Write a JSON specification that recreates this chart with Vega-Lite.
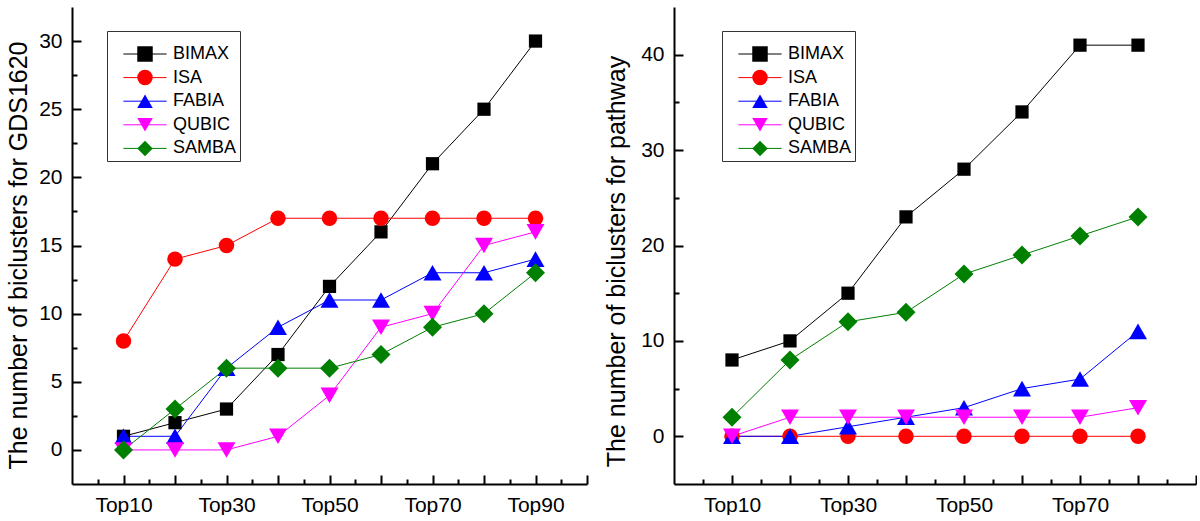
{
  "$schema": "https://vega.github.io/schema/vega-lite/v6.json",
  "background": "white",
  "padding": {"left": 5, "top": 7, "right": 0, "bottom": 0},
  "bounds": "flush",
  "spacing": 87,
  "datasets": {
    "left": [
      {"x": 10, "series": "BIMAX", "value": 1}, {"x": 20, "series": "BIMAX", "value": 2}, {"x": 30, "series": "BIMAX", "value": 3}, {"x": 40, "series": "BIMAX", "value": 7}, {"x": 50, "series": "BIMAX", "value": 12}, {"x": 60, "series": "BIMAX", "value": 16}, {"x": 70, "series": "BIMAX", "value": 21}, {"x": 80, "series": "BIMAX", "value": 25}, {"x": 90, "series": "BIMAX", "value": 30},
      {"x": 10, "series": "ISA", "value": 8}, {"x": 20, "series": "ISA", "value": 14}, {"x": 30, "series": "ISA", "value": 15}, {"x": 40, "series": "ISA", "value": 17}, {"x": 50, "series": "ISA", "value": 17}, {"x": 60, "series": "ISA", "value": 17}, {"x": 70, "series": "ISA", "value": 17}, {"x": 80, "series": "ISA", "value": 17}, {"x": 90, "series": "ISA", "value": 17},
      {"x": 10, "series": "FABIA", "value": 1}, {"x": 20, "series": "FABIA", "value": 1}, {"x": 30, "series": "FABIA", "value": 6}, {"x": 40, "series": "FABIA", "value": 9}, {"x": 50, "series": "FABIA", "value": 11}, {"x": 60, "series": "FABIA", "value": 11}, {"x": 70, "series": "FABIA", "value": 13}, {"x": 80, "series": "FABIA", "value": 13}, {"x": 90, "series": "FABIA", "value": 14},
      {"x": 10, "series": "QUBIC", "value": 0}, {"x": 20, "series": "QUBIC", "value": 0}, {"x": 30, "series": "QUBIC", "value": 0}, {"x": 40, "series": "QUBIC", "value": 1}, {"x": 50, "series": "QUBIC", "value": 4}, {"x": 60, "series": "QUBIC", "value": 9}, {"x": 70, "series": "QUBIC", "value": 10}, {"x": 80, "series": "QUBIC", "value": 15}, {"x": 90, "series": "QUBIC", "value": 16},
      {"x": 10, "series": "SAMBA", "value": 0}, {"x": 20, "series": "SAMBA", "value": 3}, {"x": 30, "series": "SAMBA", "value": 6}, {"x": 40, "series": "SAMBA", "value": 6}, {"x": 50, "series": "SAMBA", "value": 6}, {"x": 60, "series": "SAMBA", "value": 7}, {"x": 70, "series": "SAMBA", "value": 9}, {"x": 80, "series": "SAMBA", "value": 10}, {"x": 90, "series": "SAMBA", "value": 13}
    ],
    "right": [
      {"x": 10, "series": "BIMAX", "value": 8}, {"x": 20, "series": "BIMAX", "value": 10}, {"x": 30, "series": "BIMAX", "value": 15}, {"x": 40, "series": "BIMAX", "value": 23}, {"x": 50, "series": "BIMAX", "value": 28}, {"x": 60, "series": "BIMAX", "value": 34}, {"x": 70, "series": "BIMAX", "value": 41}, {"x": 80, "series": "BIMAX", "value": 41},
      {"x": 10, "series": "ISA", "value": 0}, {"x": 20, "series": "ISA", "value": 0}, {"x": 30, "series": "ISA", "value": 0}, {"x": 40, "series": "ISA", "value": 0}, {"x": 50, "series": "ISA", "value": 0}, {"x": 60, "series": "ISA", "value": 0}, {"x": 70, "series": "ISA", "value": 0}, {"x": 80, "series": "ISA", "value": 0},
      {"x": 10, "series": "FABIA", "value": 0}, {"x": 20, "series": "FABIA", "value": 0}, {"x": 30, "series": "FABIA", "value": 1}, {"x": 40, "series": "FABIA", "value": 2}, {"x": 50, "series": "FABIA", "value": 3}, {"x": 60, "series": "FABIA", "value": 5}, {"x": 70, "series": "FABIA", "value": 6}, {"x": 80, "series": "FABIA", "value": 11},
      {"x": 10, "series": "QUBIC", "value": 0}, {"x": 20, "series": "QUBIC", "value": 2}, {"x": 30, "series": "QUBIC", "value": 2}, {"x": 40, "series": "QUBIC", "value": 2}, {"x": 50, "series": "QUBIC", "value": 2}, {"x": 60, "series": "QUBIC", "value": 2}, {"x": 70, "series": "QUBIC", "value": 2}, {"x": 80, "series": "QUBIC", "value": 3},
      {"x": 10, "series": "SAMBA", "value": 2}, {"x": 20, "series": "SAMBA", "value": 8}, {"x": 30, "series": "SAMBA", "value": 12}, {"x": 40, "series": "SAMBA", "value": 13}, {"x": 50, "series": "SAMBA", "value": 17}, {"x": 60, "series": "SAMBA", "value": 19}, {"x": 70, "series": "SAMBA", "value": 21}, {"x": 80, "series": "SAMBA", "value": 23}
    ]
  },
  "resolve": {"scale": {"color": "independent", "stroke": "independent", "shape": "independent"}, "legend": {"color": "independent", "stroke": "independent", "shape": "independent"}},
  "hconcat": [
    {
      "width": 515,
      "height": 477,
      "data": {"name": "left"},
      "encoding": {
        "x": {"field": "x", "type": "quantitative", "scale": {"domain": [0, 100], "nice": false, "zero": false},
          "axis": {"title": null, "values": [5, 10, 15, 20, 25, 30, 35, 40, 45, 50, 55, 60, 65, 70, 75, 80, 85, 90, 95, 100],
            "labelExpr": "datum.value % 20 == 10 ? 'Top' + datum.value : ''",
            "tickSize": {"condition": {"test": "datum.value % 10 == 0", "value": -9}, "value": -5},
            "labelPadding": 19}},
        "y": {"field": "value", "type": "quantitative", "scale": {"domain": [-2.5, 32.5], "nice": false, "zero": false},
          "axis": {"title": "The number of biclusters for GDS1620", "values": [0, 2.5, 5, 7.5, 10, 12.5, 15, 17.5, 20, 22.5, 25, 27.5, 30],
            "labelExpr": "datum.value % 5 == 0 ? datum.value : ''",
            "tickSize": {"condition": {"test": "datum.value % 5 == 0", "value": -9}, "value": -5},
            "labelPadding": 19, "titleX": -46, "titleY": 248, "titleBaseline": "alphabetic"}}
      },
      "layer": [
        {"mark": {"type": "line", "strokeWidth": 1},
          "encoding": {"stroke": {"field": "series", "type": "nominal", "sort": ["BIMAX", "ISA", "FABIA", "QUBIC", "SAMBA"],
            "scale": {"range": ["#000000", "#FF0000", "#0000FF", "#FF00FF", "#008000"]},
            "legend": {"title": " ", "orient": "none", "legendX": 35, "legendY": 24, "symbolType": "M-2.79,0H2.79", "labelOpacity": 0, "strokeColor": "transparent"}}}},
        {
          "encoding": {
            "color": {"field": "series", "type": "nominal",
              "scale": {"domain": ["BIMAX", "ISA", "FABIA", "QUBIC", "SAMBA"], "range": ["#000000", "#FF0000", "#0000FF", "#FF00FF", "#008000"]},
              "legend": {"title": " ", "orient": "none", "legendX": 35, "legendY": 24}},
            "shape": {"field": "series", "type": "nominal",
              "scale": {"domain": ["BIMAX", "ISA", "FABIA", "QUBIC", "SAMBA"], "range": ["square", "circle", "triangle-up", "triangle-down", "diamond"]},
              "legend": {"title": " ", "orient": "none", "legendX": 35, "legendY": 24}}
          },
          "layer": [
            {"transform": [{"filter": "datum.series === 'BIMAX'"}], "mark": {"type": "point", "size": 175, "filled": true, "opacity": 1, "strokeWidth": 0}},
            {"transform": [{"filter": "datum.series === 'ISA'"}], "mark": {"type": "point", "size": 240, "filled": true, "opacity": 1, "strokeWidth": 0}},
            {"transform": [{"filter": "datum.series === 'FABIA'"}], "mark": {"type": "point", "size": 324, "filled": true, "opacity": 1, "strokeWidth": 0}},
            {"transform": [{"filter": "datum.series === 'QUBIC'"}], "mark": {"type": "point", "size": 324, "filled": true, "opacity": 1, "strokeWidth": 0}},
            {"transform": [{"filter": "datum.series === 'SAMBA'"}], "mark": {"type": "point", "size": 361, "filled": true, "opacity": 1, "strokeWidth": 0}}
          ]
        }
      ]
    },
    {
      "width": 522,
      "height": 477,
      "data": {"name": "right"},
      "encoding": {
        "x": {"field": "x", "type": "quantitative", "scale": {"domain": [0, 90], "nice": false, "zero": false},
          "axis": {"title": null, "values": [5, 10, 15, 20, 25, 30, 35, 40, 45, 50, 55, 60, 65, 70, 75, 80, 85, 90],
            "labelExpr": "datum.value % 20 == 10 && datum.value < 90 ? 'Top' + datum.value : ''",
            "tickSize": {"condition": {"test": "datum.value % 10 == 0", "value": -9}, "value": -5},
            "labelPadding": 19}},
        "y": {"field": "value", "type": "quantitative", "scale": {"domain": [-5, 45], "nice": false, "zero": false},
          "axis": {"title": "The number of biclusters for pathway", "values": [0, 5, 10, 15, 20, 25, 30, 35, 40],
            "labelExpr": "datum.value % 10 == 0 ? datum.value : ''",
            "tickSize": {"condition": {"test": "datum.value % 10 == 0", "value": -9}, "value": -5},
            "labelPadding": 19, "titleX": -50, "titleY": 254, "titleBaseline": "alphabetic"}}
      },
      "layer": [
        {"mark": {"type": "line", "strokeWidth": 1},
          "encoding": {"stroke": {"field": "series", "type": "nominal", "sort": ["BIMAX", "ISA", "FABIA", "QUBIC", "SAMBA"],
            "scale": {"range": ["#000000", "#FF0000", "#0000FF", "#FF00FF", "#008000"]},
            "legend": {"title": " ", "orient": "none", "legendX": 48, "legendY": 24, "symbolType": "M-2.79,0H2.79", "labelOpacity": 0, "strokeColor": "transparent"}}}},
        {
          "encoding": {
            "color": {"field": "series", "type": "nominal",
              "scale": {"domain": ["BIMAX", "ISA", "FABIA", "QUBIC", "SAMBA"], "range": ["#000000", "#FF0000", "#0000FF", "#FF00FF", "#008000"]},
              "legend": {"title": " ", "orient": "none", "legendX": 48, "legendY": 24}},
            "shape": {"field": "series", "type": "nominal",
              "scale": {"domain": ["BIMAX", "ISA", "FABIA", "QUBIC", "SAMBA"], "range": ["square", "circle", "triangle-up", "triangle-down", "diamond"]},
              "legend": {"title": " ", "orient": "none", "legendX": 48, "legendY": 24}}
          },
          "layer": [
            {"transform": [{"filter": "datum.series === 'BIMAX'"}], "mark": {"type": "point", "size": 175, "filled": true, "opacity": 1, "strokeWidth": 0}},
            {"transform": [{"filter": "datum.series === 'ISA'"}], "mark": {"type": "point", "size": 240, "filled": true, "opacity": 1, "strokeWidth": 0}},
            {"transform": [{"filter": "datum.series === 'FABIA'"}], "mark": {"type": "point", "size": 324, "filled": true, "opacity": 1, "strokeWidth": 0}},
            {"transform": [{"filter": "datum.series === 'QUBIC'"}], "mark": {"type": "point", "size": 324, "filled": true, "opacity": 1, "strokeWidth": 0}},
            {"transform": [{"filter": "datum.series === 'SAMBA'"}], "mark": {"type": "point", "size": 361, "filled": true, "opacity": 1, "strokeWidth": 0}}
          ]
        }
      ]
    }
  ],
  "config": {
    "view": {"stroke": null},
    "axis": {"grid": false, "domainColor": "#000000", "domainWidth": 2, "tickColor": "#000000", "tickWidth": 2,
      "labelFont": "Liberation Sans", "labelFontSize": 21, "labelColor": "#000000",
      "titleFont": "Liberation Sans", "titleFontSize": 25, "titleFontWeight": "normal", "titleColor": "#000000"},
    "legend": {"labelFont": "Liberation Sans", "labelFontSize": 18, "labelColor": "#000000",
      "titleFontSize": 11, "titlePadding": 0,
      "strokeColor": "#333333", "padding": 3, "symbolSize": 240, "symbolStrokeWidth": 1,
      "symbolOffset": 26, "labelOffset": 19, "rowPadding": 5.6}
  }
}
